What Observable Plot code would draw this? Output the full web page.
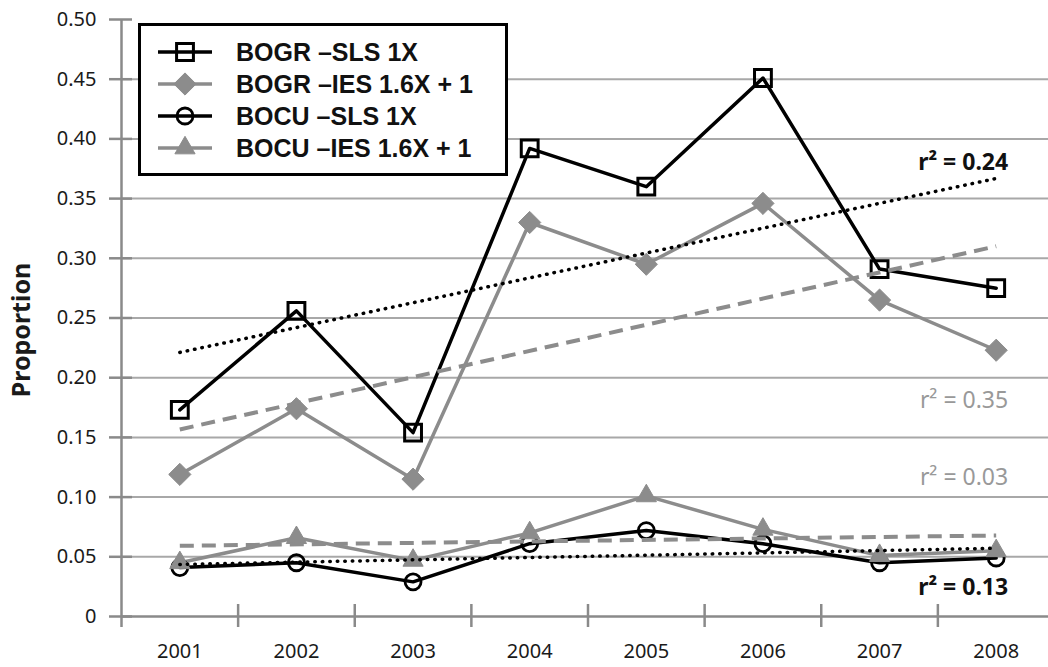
<!DOCTYPE html>
<html><head><meta charset="utf-8">
<script src="https://cdn.jsdelivr.net/npm/d3@7"></script>
<script src="https://cdn.jsdelivr.net/npm/@observablehq/plot@0.6"></script>
<style>
html,body{margin:0;padding:0;background:#fff;overflow:hidden;}
#wrap{position:relative;width:1048px;height:667px;}
#legend{position:absolute;left:138px;top:23px;width:370px;height:153px;box-sizing:border-box;border:3px solid #000;background:#fff;}
#legend svg{display:block;}
#ylabel{position:absolute;left:20px;top:330px;transform:translate(-50%,-50%) rotate(-90deg);font-family:'Noto Sans',sans-serif;font-weight:bold;font-size:25px;color:#1a1a1a;white-space:nowrap;line-height:1;}
</style></head><body><div id="wrap"></div>
<script>
// ---- data ----
const years = [2001, 2002, 2003, 2004, 2005, 2006, 2007, 2008];
const seriesNames = ["BOGR \u2013SLS 1X", "BOGR \u2013IES 1.6X + 1", "BOCU \u2013SLS 1X", "BOCU \u2013IES 1.6X + 1"];
const bogrSLS = [0.173, 0.256, 0.154, 0.392, 0.360, 0.451, 0.291, 0.275];
const bogrIES = [0.119, 0.174, 0.115, 0.330, 0.295, 0.346, 0.265, 0.223];
const bocuSLS = [0.041, 0.045, 0.029, 0.061, 0.072, 0.061, 0.045, 0.049];
const bocuIES = [0.045, 0.066, 0.047, 0.070, 0.101, 0.073, 0.051, 0.055];
const yTicks = [0, 0.05, 0.10, 0.15, 0.20, 0.25, 0.30, 0.35, 0.40, 0.45, 0.50];
const yTickLabels = ["0", "0.05", "0.10", "0.15", "0.20", "0.25", "0.30", "0.35", "0.40", "0.45", "0.50"];
const yLabel = "Proportion";
const r2Text = ["r\u00B2 = 0.24", "r\u00B2 = 0.35", "r\u00B2 = 0.03", "r\u00B2 = 0.13"];
const r2Y = [0.380, 0.181, 0.116, 0.024];

// ---- styles ----
const BLACK = "#000", GRAY = "#8c8c8c", AXIS = "#8a8a8a", GRID = "#a8a8a8";
const seriesValues = [bogrSLS, bogrIES, bocuSLS, bocuIES];
const seriesStyle = [
  {color: BLACK, symbol: "square", r: 9.5, fill: "none", sw: 3, dash: "0.5,7", cap: "round", tw: 3.5},
  {color: GRAY, symbol: "diamond2", r: 10, fill: GRAY, sw: 1, dash: "14,8", cap: "butt", tw: 4},
  {color: BLACK, symbol: "circle", r: 8, fill: "none", sw: 2.8, dash: "0.5,7", cap: "round", tw: 3.5},
  {color: GRAY, symbol: "triangle", r: 7.5, fill: GRAY, sw: 1, dash: "14,8", cap: "butt", tw: 4}
];
const r2Style = [
  {fill: "#111", weight: "bold"},
  {fill: "#999", weight: "normal"},
  {fill: "#999", weight: "normal"},
  {fill: "#111", weight: "bold"}
];

const tables = seriesValues.map((vals, s) => years.map((year, i) => ({year, value: vals[i], series: seriesNames[s]})));
const xDomain = [years[0] - 0.5, years[years.length - 1] + 0.5];
const separators = years.slice(0, -1).map(y => y + 0.5);

const seriesMarks = [];
tables.forEach((rows, s) => {
  const st = seriesStyle[s];
  seriesMarks.push(Plot.line(rows, {x: "year", y: "value", stroke: st.color, strokeWidth: 3.5}));
});
tables.forEach((rows, s) => {
  const st = seriesStyle[s];
  seriesMarks.push(Plot.dot(rows, {x: "year", y: "value", symbol: st.symbol, r: st.r, fill: st.fill, stroke: st.color, strokeWidth: st.sw}));
});
tables.forEach((rows, s) => {
  const st = seriesStyle[s];
  seriesMarks.push(Plot.linearRegressionY(rows, {x: "year", y: "value", ci: 0, stroke: st.color, strokeWidth: st.tw, strokeDasharray: st.dash, strokeLinecap: st.cap}));
});
const r2Marks = r2Text.map((t, i) => Plot.text([t], {
  x: () => years[years.length - 1], y: () => r2Y[i], text: d => d,
  textAnchor: "end", dx: 12, fill: r2Style[i].fill, fontWeight: r2Style[i].weight, fontSize: 23
}));

const chart = Plot.plot({
  width: 1048, height: 667,
  marginLeft: 121, marginRight: 0, marginTop: 19, marginBottom: 51,
  style: {fontFamily: "'Noto Sans', sans-serif", fontSize: "20px", color: "#1a1a1a", background: "white", overflow: "visible"},
  x: {type: "linear", domain: xDomain, range: [121, 1054]},
  y: {domain: [0, 0.5]},
  marks: [
    Plot.gridY(yTicks.filter(d => d > 0 && d < 0.5), {stroke: GRID, strokeOpacity: 1, strokeWidth: 2}),
    Plot.ruleY([0], {stroke: AXIS, strokeWidth: 2.5}),
    Plot.ruleX([xDomain[0]], {stroke: AXIS, strokeWidth: 2.5, insetBottom: -11}),
    Plot.axisY({ticks: yTicks, tickSize: 23, dx: 11, tickFormat: () => "", stroke: AXIS, strokeWidth: 2.5, label: null}),
    Plot.axisY({ticks: yTicks, tickSize: 0, tickPadding: 25, tickFormat: d => yTickLabels[yTicks.indexOf(d)], label: null, fill: "#1a1a1a"}),
    Plot.axisX({ticks: separators, tickSize: 23, dy: -12, tickFormat: () => "", stroke: AXIS, strokeWidth: 2.5, label: null}),
    Plot.axisX({ticks: years, tickSize: 0, tickPadding: 27, tickFormat: d => String(d), label: null, fill: "#1a1a1a"}),
    ...seriesMarks,
    ...r2Marks
  ]
});
const wrap = document.getElementById("wrap");
wrap.appendChild(chart);

// y-axis title
d3.select(wrap).append("div").attr("id", "ylabel").text(yLabel);

// ---- legend (inside the plot area, as in the reference) ----
const lg = d3.select(wrap).append("div").attr("id", "legend");
const lsvg = lg.append("svg").attr("width", 364).attr("height", 147);
const symMap = {square: d3.symbolSquare, diamond2: d3.symbolDiamond2, circle: d3.symbolCircle, triangle: d3.symbolTriangle};
seriesNames.forEach((name, i) => {
  const st = seriesStyle[i];
  const cy = 26 + 32 * i;
  const g = lsvg.append("g").attr("transform", `translate(0,${cy})`);
  g.append("line").attr("x1", 17).attr("x2", 71).attr("y1", 0).attr("y2", 0).attr("stroke", st.color).attr("stroke-width", 3.5);
  g.append("path").attr("transform", "translate(44,0)")
    .attr("d", d3.symbol(symMap[st.symbol], Math.PI * st.r * st.r)())
    .attr("fill", st.fill === "none" ? "none" : st.fill).attr("stroke", st.color).attr("stroke-width", st.sw);
  g.append("text").attr("x", 95).attr("y", 0).attr("dy", "0.35em")
    .attr("font-family", "'Liberation Sans', Arial, sans-serif").attr("font-weight", "bold").attr("font-size", 25)
    .attr("fill", "#111").text(name);
});
</script></body></html>
